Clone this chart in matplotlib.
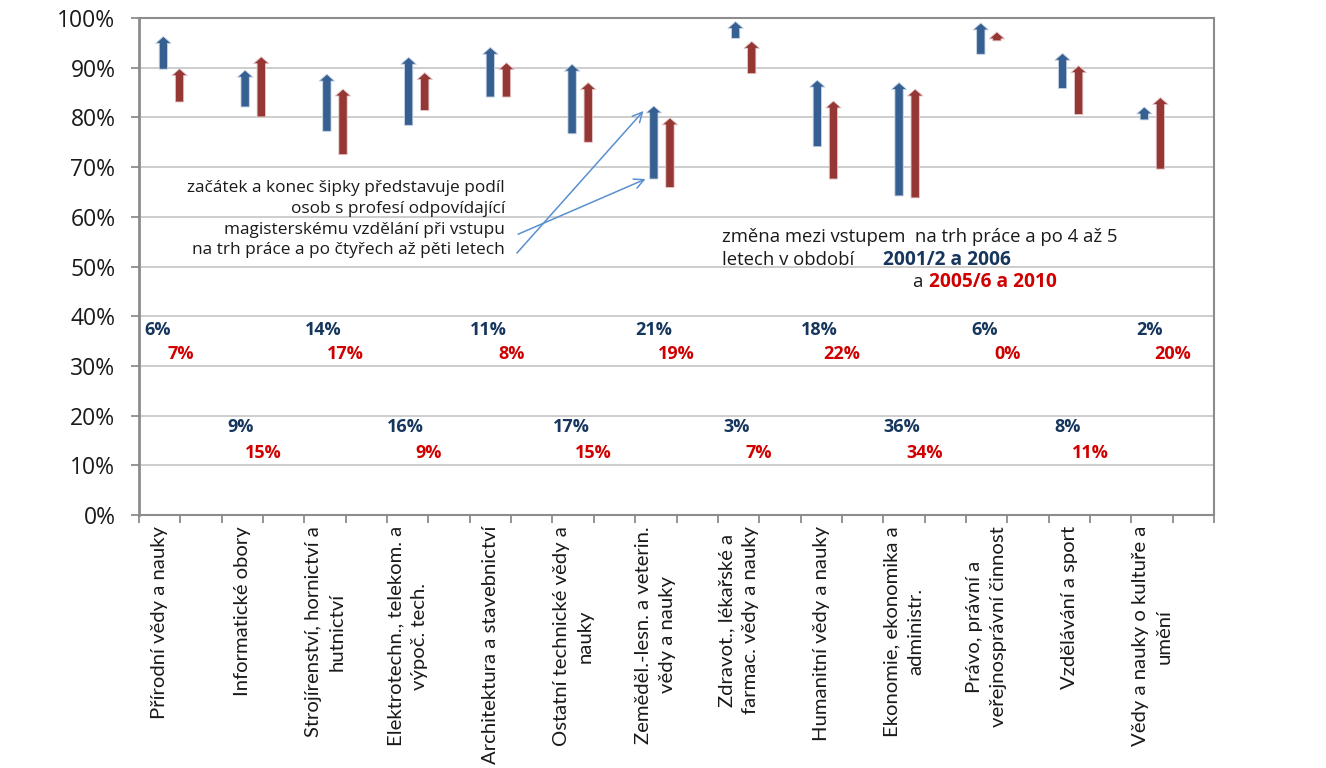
import matplotlib
matplotlib.use("Agg")
import matplotlib.pyplot as plt

plt.rcParams['font.family'] = ['Open Sans', 'DejaVu Sans']

# obory (kategorie na ose x)
obory = [
    "Přírodní vědy a nauky",
    "Informatické obory",
    "Strojírenství, hornictví a\nhutnictví",
    "Elektrotechn., telekom. a\nvýpoč. tech.",
    "Architektura a stavebnictví",
    "Ostatní technické vědy a\nnauky",
    "Zeměděl.-lesn. a veterin.\nvědy a nauky",
    "Zdravot., lékařské a\nfarmac. vědy a nauky",
    "Humanitní vědy a nauky",
    "Ekonomie, ekonomika a\nadministr.",
    "Právo, právní a\nveřejnosprávní činnost",
    "Vzdělávání a sport",
    "Vědy a nauky o kultuře a\numění",
]

# 2001/2 -> 2006 (modre sipky), hodnoty v %
modra_zacatek = [89.7, 82.1, 77.2, 78.4, 84.1, 76.7, 67.6, 95.9, 74.1, 64.2, 92.7, 85.8, 79.5]
modra_konec = [96.3, 89.5, 88.7, 92.1, 94.1, 90.7, 82.3, 99.3, 87.5, 87.0, 99.0, 92.9, 82.1]
# 2005/6 -> 2010 (cervene sipky)
cervena_zacatek = [83.1, 80.1, 72.5, 81.4, 84.1, 75.0, 65.9, 88.8, 67.6, 63.8, 95.4, 80.6, 69.6]
cervena_konec = [89.8, 92.2, 85.7, 89.0, 91.0, 87.0, 79.9, 95.3, 83.3, 85.7, 97.2, 90.4, 84.0]

# popisky zmen
modra_zmena = [6, 9, 14, 16, 11, 17, 21, 3, 18, 36, 6, 8, 2]
cervena_zmena = [7, 15, 17, 9, 8, 15, 19, 7, 22, 34, 0, 11, 20]

MODRA = '#376092'
CERVENA = '#953735'
MODRA_TXT = '#17365D'
CERVENA_TXT = '#D00000'
SEDA = '#8C8C8C'

fig = plt.figure(figsize=(13.26, 7.68), dpi=100)
ax = fig.add_axes([139/1326, 1-515/768, (1214-139)/1326, (515-18)/768])

n = len(obory)
ax.set_xlim(0, 2*n)
ax.set_ylim(0, 100)

# osa y
ax.set_yticks(range(0, 101, 10))
ax.set_yticklabels([f"{v}%" for v in range(0, 101, 10)], fontsize=16.5, color='#1A1A1A')
ax.yaxis.grid(True, color='#C9C9C9', lw=1.3)
ax.set_axisbelow(True)

# osa x - carky na hranicich, popisky uprostred
ax.set_xticks(range(0, 2*n+1))
ax.set_xticklabels([''] * (2*n+1))
ax.set_xticks([2*i + 0.5 for i in range(n)], minor=True)
ax.set_xticklabels(obory, minor=True, rotation=90, va='top', ha='center',
                   multialignment='center', linespacing=1.48,
                   fontsize=14.6, family=['Lato', 'DejaVu Sans'], color='#1A1A1A')
ax.tick_params(axis='x', which='minor', length=0, pad=8)
ax.tick_params(axis='x', which='major', direction='out', length=6, width=1.3, color=SEDA)
ax.tick_params(axis='y', which='major', direction='out', length=6, width=1.3, color=SEDA, pad=11)

for s in ax.spines.values():
    s.set_color(SEDA)
    s.set_linewidth(1.5)
ax.spines['left'].set_linewidth(2)

# sipky
sipka = 'simple,head_length=0.5,head_width=1.12,tail_width=0.6'
for i in range(n):
    xb = 0.59 + 1.977*i
    xr = xb + 0.39
    ax.annotate('', xy=(xb, modra_konec[i]), xytext=(xb, modra_zacatek[i]),
                arrowprops=dict(arrowstyle=sipka, mutation_scale=10, color=MODRA,
                                ec='#C9D6E6', lw=0.6, shrinkA=0, shrinkB=0))
    ax.annotate('', xy=(xr, cervena_konec[i]), xytext=(xr, cervena_zacatek[i]),
                arrowprops=dict(arrowstyle=sipka, mutation_scale=10, color=CERVENA,
                                ec='#E6C9C9', lw=0.6, shrinkA=0, shrinkB=0))

    # popisky zmen - stridave nahore a dole
    if i % 2 == 0:
        yb, yr = 37.2, 32.4
    else:
        yb, yr = 17.7, 12.5
    ax.text(2*i + 0.45, yb, f"{modra_zmena[i]}%", color=MODRA_TXT, fontsize=13,
            fontweight='bold', ha='center', va='center')
    ax.text(2*i + 1.0, yr, f"{cervena_zmena[i]}%", color=CERVENA_TXT, fontsize=13,
            fontweight='bold', ha='center', va='center')

# vysvetlivka vlevo
ax.text(8.85, 59.5, "začátek a konec šipky představuje podíl\nosob s profesí odpovídající\n"
        "magisterskému vzdělání při vstupu\nna trh práce a po čtyřech až pěti letech",
        ha='right', va='center', multialignment='right', fontsize=12.4, linespacing=1.38,
        color='#1A1A1A')

# odkazy na zemedelske sipky
xz = 0.59 + 1.977*6
ax.annotate('', xy=(xz - 0.25, modra_konec[6] - 1), xytext=(9.14, 52.7),
            arrowprops=dict(arrowstyle='->,head_length=0.7,head_width=0.35',
                            color='#5A8FD0', lw=1.1, shrinkA=0, shrinkB=0))
ax.annotate('', xy=(xz - 0.2, modra_zacatek[6]), xytext=(9.17, 56.5),
            arrowprops=dict(arrowstyle='->,head_length=0.7,head_width=0.35',
                            color='#5A8FD0', lw=1.1, shrinkA=0, shrinkB=0))

# legenda jako text
ax.text(14.1, 55.9, "změna mezi vstupem  na trh práce a po 4 až 5", fontsize=13.3,
        ha='left', va='center', color='#1A1A1A')
ax.text(14.1, 51.3, "letech v období", fontsize=13.3, ha='left', va='center', color='#1A1A1A')
ax.text(18.0, 51.3, "2001/2 a 2006", fontsize=13.8, fontweight='bold', ha='left',
        va='center', color=MODRA_TXT)
ax.text(18.7, 46.8, "a", fontsize=13.3, ha='left', va='center', color='#1A1A1A')
ax.text(19.1, 46.8, "2005/6 a 2010", fontsize=13.8, fontweight='bold', ha='left',
        va='center', color=CERVENA_TXT)

fig.savefig('out.png', dpi=100)
